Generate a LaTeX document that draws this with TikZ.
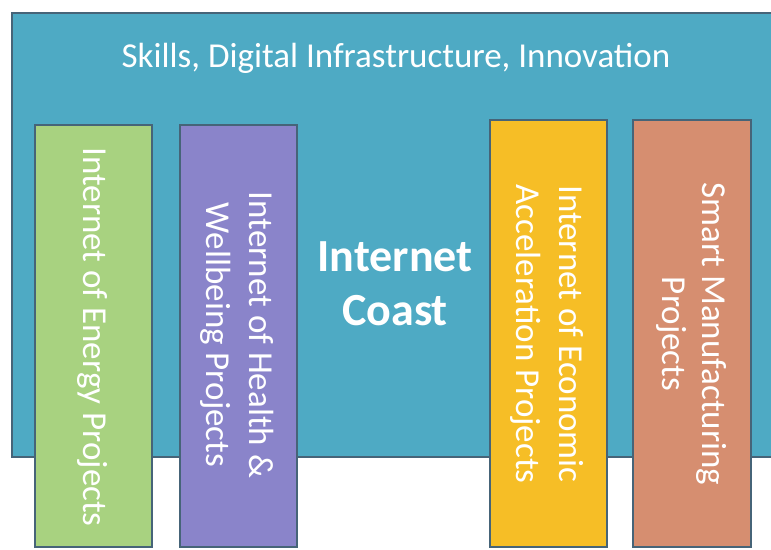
\documentclass[tikz,border=0pt]{standalone}
\usepackage{fontspec}
\setmainfont{Carlito}
\usepackage{xcolor}
\definecolor{coast}{RGB}{78,170,196}
\definecolor{edge}{RGB}{70,100,120}
\definecolor{energy}{RGB}{168,210,128}
\definecolor{health}{RGB}{138,132,202}
\definecolor{econ}{RGB}{246,190,38}
\definecolor{manuf}{RGB}{214,142,112}

\begin{document}
\begin{tikzpicture}[x=1pt,y=-1pt]
                \useasboundingbox (0,0) rectangle (771,549);
                \clip (0,0) rectangle (771,549);

                % Background band
                \filldraw[fill=coast,draw=edge,line width=1.2pt] (12,13) rectangle (790,457);
                \node[text=white,font=\fontsize{35}{40}\selectfont] (title) at (396,58) {Skills, Digital Infrastructure, Innovation};

                % Centre label
                \node[text=white,font=\fontsize{46}{54}\selectfont\bfseries,align=center] (coast) at (395,284) {Internet\\Coast};

                % Columns
                \filldraw[fill=energy,draw=edge,line width=1.2pt] (35,125) rectangle (152,547);
                \node[text=white,rotate=-90,font=\fontsize{35}{43}\selectfont] (energy) at (93,337) {Internet of Energy Projects};

                \filldraw[fill=health,draw=edge,line width=1.2pt] (180,125) rectangle (297,547);
                \node[text=white,rotate=-90,align=center,font=\fontsize{35}{43}\selectfont] (health) at (237,335) {Internet of Health \&\\Wellbeing Projects};

                \filldraw[fill=econ,draw=edge,line width=1.2pt] (490,120) rectangle (607,547);
                \node[text=white,rotate=-90,align=center,font=\fontsize{35}{43}\selectfont] (econ) at (547,334) {Internet of Economic\\Acceleration Projects};

                \filldraw[fill=manuf,draw=edge,line width=1.2pt] (633,120) rectangle (751,547);
                \node[text=white,rotate=-90,align=center,font=\fontsize{35}{40}\selectfont] (manuf) at (692,334) {Smart Manufacturing\\Projects};
            \end{tikzpicture}
\end{document}
